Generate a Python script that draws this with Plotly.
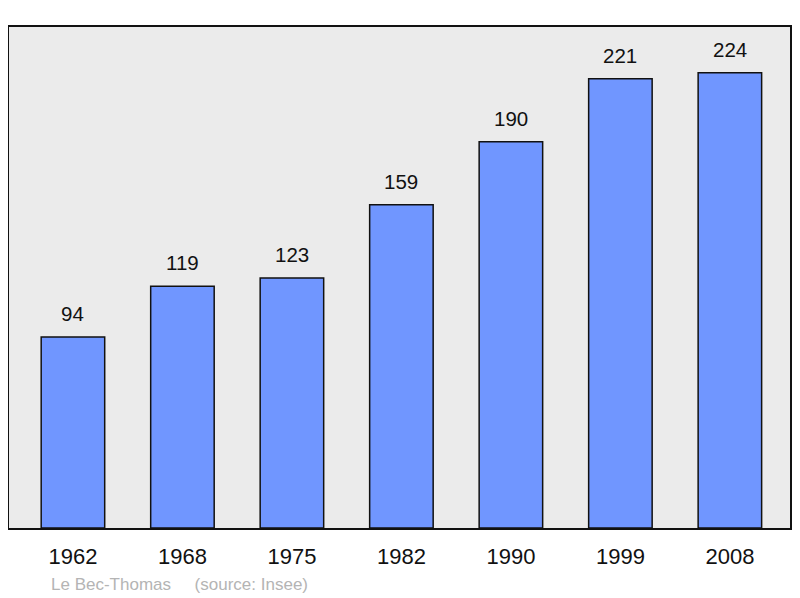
import plotly.graph_objects as go

# Population by census year
years = ['1962', '1968', '1975', '1982', '1990', '1999', '2008']
population = [94, 119, 123, 159, 190, 221, 224]

commune = 'Le Bec-Thomas'
source = '(source: Insee)'

fig = go.Figure()

fig.add_trace(
    go.Bar(
        x=years,
        y=population,
        width=0.58,
        marker=dict(color='#7096ff', line=dict(color='#111111', width=1.5)),
        hoverinfo='x+y',
        showlegend=False
    )
)

# value labels above the bars (x as category index)
for i, val in enumerate(population):
    fig.add_annotation(
        x=i, y=val,
        text=str(val),
        showarrow=False,
        yanchor='bottom',
        yshift=10,
        font=dict(size=20.5, color='#111111')
    )

fig.add_annotation(
    xref='paper', yref='paper',
    x=0.0512, y=-0.112,
    xanchor='left', yanchor='middle',
    text=commune + '&nbsp;&nbsp;&nbsp;&nbsp; ' + source,
    showarrow=False,
    font=dict(size=17, color='#b4b4b4')
)

fig.update_layout(
    width=784,
    height=590,
    margin=dict(l=1, r=2, t=19, b=70),
    plot_bgcolor='#ebebeb',
    paper_bgcolor='#ffffff',
    font=dict(family='Liberation Sans, Arial, sans-serif', color='#111111'),
)

fig.update_xaxes(
    type='category',
    range=[-0.584, 6.549],
    showline=True,
    mirror=True,
    linecolor='#111111',
    linewidth=2,
    showgrid=False,
    ticks='',
    ticklabelstandoff=8,
    tickfont=dict(size=22, color='#111111')
)

fig.update_yaxes(
    range=[0, 246.5],
    showline=True,
    mirror=True,
    linecolor='#111111',
    linewidth=2,
    showgrid=False,
    zeroline=False,
    showticklabels=False,
    ticks=''
)

fig.write_html("out.html")
